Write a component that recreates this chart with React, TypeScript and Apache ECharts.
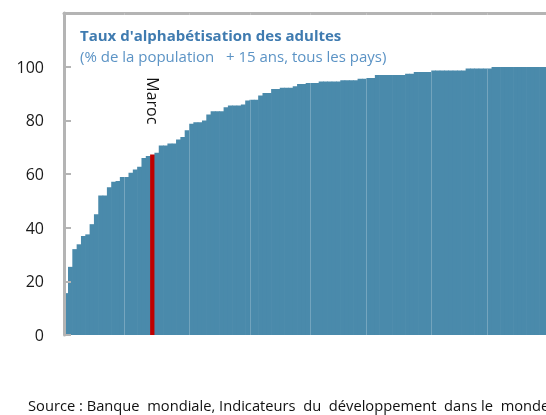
import React, { useEffect, useRef } from "react";
import * as echarts from "echarts";

// Adult literacy rate (% of population 15+), countries sorted ascending
const values: number[] = [
  15.6, 25.4, 32.0, 33.8, 36.9, 37.5, 41.3, 45.0, 52.0, 52.0,
  55.1, 57.1, 57.4, 58.9, 58.9, 60.5, 61.7, 62.7, 66.0, 66.7,
  67.3, 67.9, 70.6, 70.6, 71.4, 71.4, 72.9, 73.8, 76.3, 78.7,
  79.3, 79.3, 79.9, 82.2, 83.4, 83.4, 83.4, 84.9, 85.5, 85.5,
  85.5, 85.9, 87.4, 87.7, 87.7, 89.3, 90.2, 90.2, 91.7, 91.7,
  92.1, 92.1, 92.1, 92.7, 93.5, 93.5, 93.9, 93.9, 93.9, 94.5,
  94.5, 94.5, 94.5, 94.5, 94.9, 94.9, 94.9, 94.9, 95.5, 95.5,
  95.8, 95.8, 96.9, 96.9, 96.9, 96.9, 96.9, 96.9, 96.9, 97.4,
  97.4, 98.0, 98.0, 98.0, 98.0, 98.6, 98.6, 98.6, 98.6, 98.6,
  98.6, 98.6, 98.6, 99.3, 99.3, 99.3, 99.3, 99.3, 99.3, 99.9,
  99.9, 99.9, 99.9, 99.9, 99.9, 99.9, 99.9, 99.9, 99.9, 99.9,
  99.9, 99.9, 99.9, 99.9, 99.9, 99.9, 99.9, 99.9,
];
const categories: string[] = values.map((_, i) => `Pays ${i + 1}`);
const highlightName = "Maroc";
const highlightIndex = 20;
const separatorIdx: number[] = [14, 29, 43, 57, 70, 85, 98];

const titleText = "Taux d'alphabétisation des adultes";
const subtitleText = "(% de la population   + 15 ans, tous les pays)";
const sourceText =
  "Source : Banque  mondiale, Indicateurs  du  développement  dans le  monde";

const FONT = "'Open Sans', 'Noto Sans', sans-serif";

export default function App() {
  const ref = useRef<HTMLDivElement>(null);
  useEffect(() => {
    if (!ref.current) return;
    const chart = echarts.init(ref.current, undefined, { renderer: "svg" });
    const barColor = "#4a8aab";
    const axisGray = "#b4b4b4";
    chart.setOption({
      animation: false,
      title: {
        text: titleText,
        subtext: subtitleText,
        left: 80,
        top: 26,
        padding: 0,
        itemGap: 4,
        textStyle: {
          fontFamily: FONT,
          fontSize: 15,
          fontWeight: "bold",
          color: "#3f7bb0",
          lineHeight: 17,
        },
        subtextStyle: {
          fontFamily: FONT,
          fontSize: 15,
          color: "#5b93c5",
          lineHeight: 17,
        },
      },
      grid: { left: 64, right: 0, top: 13, bottom: 80, containLabel: false },
      xAxis: [
        {
          type: "category",
          data: categories,
          boundaryGap: true,
          axisLine: { show: false },
          axisTick: { show: false },
          axisLabel: { show: false },
          splitLine: { show: false },
        },
        {
          type: "category",
          position: "top",
          data: categories,
          axisLine: { show: true, lineStyle: { color: axisGray, width: 3 } },
          axisTick: { show: false },
          axisLabel: { show: false },
          splitLine: { show: false },
        },
        {
          type: "value",
          min: 0,
          max: values.length,
          show: false,
          splitLine: { show: false },
        },
      ],
      yAxis: {
        type: "value",
        min: 0,
        max: 120,
        interval: 20,
        axisLine: { show: true, lineStyle: { color: axisGray, width: 3 } },
        axisTick: {
          show: true,
          inside: true,
          length: 7,
          lineStyle: { color: axisGray, width: 2 },
        },
        axisLabel: {
          formatter: (v: number) => (v > 100 ? "" : String(v)),
          fontFamily: FONT,
          fontSize: 16,
          color: "#1a1a1a",
          margin: 20,
        },
        splitLine: { show: false },
        z: 5,
      },
      series: [
        {
          type: "bar",
          barWidth: "115%",
          barGap: 0,
          itemStyle: { color: barColor },
          data: values.map((v, i) =>
            i === highlightIndex
              ? {
                  value: v,
                  itemStyle: { color: "#c00000" },
                  label: {
                    show: true,
                    formatter: highlightName,
                    position: "top",
                    distance: 30,
                    rotate: -90,
                    align: "right",
                    verticalAlign: "middle",
                    fontFamily: FONT,
                    fontSize: 16,
                    color: "#111",
                  },
                }
              : v
          ),
        },
        {
          type: "line",
          xAxisIndex: 2,
          data: [],
          z: 4,
          silent: true,
          markLine: {
            silent: true,
            symbol: "none",
            label: { show: false },
            lineStyle: { color: "rgba(255,255,255,0.22)", width: 1, type: "solid" },
            data: separatorIdx.map((i) => ({ xAxis: i })),
          },
        },
      ],
      graphic: [
        {
          type: "text",
          left: 28,
          top: 397,
          style: {
            text: sourceText,
            font: `14.7px ${FONT}`,
            fill: "#111",
          },
        },
      ],
    });
    return () => chart.dispose();
  }, []);
  return (
    <div
      style={{ position: "fixed", left: 0, top: 0, width: 546, height: 415, overflow: "hidden" }}
    >
      <div ref={ref} style={{ width: 574, height: 415 }} />
    </div>
  );
}
